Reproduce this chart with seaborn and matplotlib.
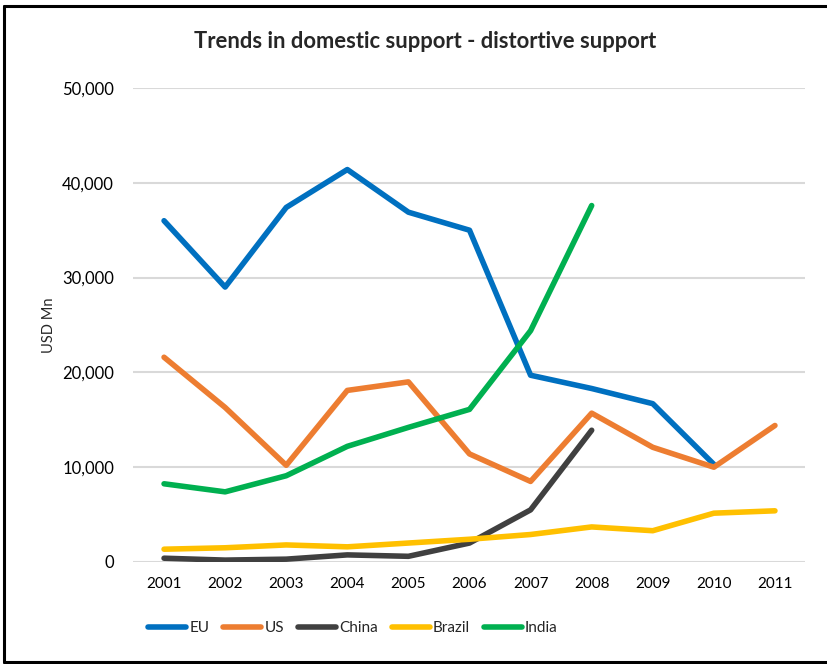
import matplotlib
matplotlib.use("Agg")
import matplotlib.pyplot as plt
import seaborn as sns
import pandas as pd
from matplotlib.lines import Line2D
from matplotlib.ticker import FuncFormatter

years = ["2001", "2002", "2003", "2004", "2005", "2006", "2007", "2008", "2009", "2010", "2011"]
eu = [36000, 29000, 37400, 41400, 36900, 35000, 19700, 18300, 16700, 10300, None]
us = [21600, 16300, 10200, 18100, 19000, 11400, 8500, 15700, 12100, 10000, 14400]
china = [400, 200, 300, 750, 600, 2000, 5500, 13900, None, None, None]
brazil = [1350, 1500, 1800, 1600, 2000, 2400, 2900, 3700, 3300, 5150, 5400]
india = [8250, 7400, 9100, 12200, 14200, 16100, 24400, 37600, None, None, None]

series_names = ["EU", "US", "China", "Brazil", "India"]
colors = ["#0070C0", "#ED7D31", "#404040", "#FFC000", "#00B050"]

rows = []
for name, vals in zip(series_names, [eu, us, china, brazil, india]):
    for i, v in enumerate(vals):
        if v is not None:
            rows.append({"Year": i, "Value": v, "Series": name})
df = pd.DataFrame(rows)

sns.set_theme(style="white")
plt.rcParams["font.family"] = ["Lato", "DejaVu Sans"]

fig = plt.figure(figsize=(8.28, 6.64), dpi=100)
ax = fig.add_axes([133.5 / 828, 1 - 562 / 664, 672 / 828, 474 / 664])

sns.lineplot(data=df, x="Year", y="Value", hue="Series", hue_order=series_names,
             palette=colors, linewidth=4, ax=ax, legend=False,
             solid_capstyle="round", solid_joinstyle="round")

ax.set_xlim(-0.5, len(years) - 0.5)
ax.set_ylim(0, 50000)
ax.set_yticks(range(0, 50001, 10000))
ax.yaxis.set_major_formatter(FuncFormatter(lambda v, p: f"{int(v):,}"))
ax.set_xticks(range(len(years)))
ax.set_xticklabels(years)
ax.grid(axis="y", color="#D9D9D9", linewidth=1.5)
ax.set_axisbelow(True)
for s in ax.spines.values():
    s.set_visible(False)
ax.tick_params(axis="both", length=0, labelsize=11, colors="black")
ax.tick_params(axis="y", pad=14)
ax.tick_params(axis="x", pad=11)
for lbl in ax.get_yticklabels():
    lbl.set_fontsize(12)
ax.set_xlabel("")
ax.set_ylabel("USD Mn", fontsize=10.5)
ax.yaxis.set_label_coords(-0.115, 0.5)

fig.text(425 / 828, 1 - 42 / 664, "Trends in domestic support - distortive support",
         ha="center", va="center", fontsize=15.8, fontweight="bold")

handles = [Line2D([0], [0], color=c, linewidth=4, solid_capstyle="round") for c in colors]
fig.legend(handles, series_names, loc="center", bbox_to_anchor=(353 / 828, 1 - 628 / 664),
           ncol=5, frameon=False, fontsize=11, handlelength=2.5, handletextpad=0.2,
           columnspacing=0.9)

# outer border (left, top, bottom)
fig.add_artist(Line2D([4 / 828, 4 / 828], [1 - 5.5 / 664, 1 - 662 / 664], color="black", linewidth=2.2,
                      transform=fig.transFigure))
fig.add_artist(Line2D([4 / 828, 1], [1 - 5.5 / 664, 1 - 5.5 / 664], color="black", linewidth=2.2,
                      transform=fig.transFigure))
fig.add_artist(Line2D([4 / 828, 1], [1 - 662 / 664, 1 - 662 / 664], color="black", linewidth=2.2,
                      transform=fig.transFigure))

fig.savefig("out.png", dpi=100)
